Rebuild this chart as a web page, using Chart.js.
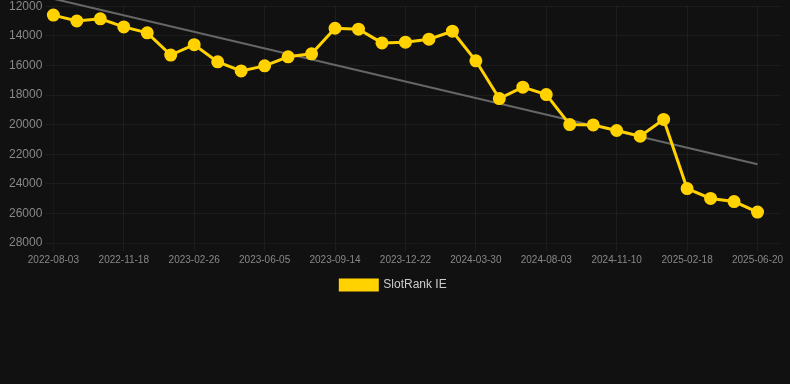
<!DOCTYPE html>
<html>
<head>
<meta charset="utf-8">
<script src="https://cdn.jsdelivr.net/npm/chart.js@4"></script>
<style>
  html, body { margin: 0; padding: 0; background: #111111; overflow: hidden; }
  #wrap { position: relative; width: 790px; height: 305px; margin-top: -4px; }
</style>
</head>
<body>
<div id="wrap"><canvas id="rankChart"></canvas></div>
<script>
// dates on the x axis (last one left blank, keeps room on the right like the original)
const dates = [
  "2022-08-03", "2022-09-08", "2022-10-13", "2022-11-18", "2022-12-21", "2023-01-23",
  "2023-02-26", "2023-03-31", "2023-05-03", "2023-06-05", "2023-07-09", "2023-08-11",
  "2023-09-14", "2023-10-17", "2023-11-19", "2023-12-22", "2024-01-24", "2024-02-26",
  "2024-03-30", "2024-05-11", "2024-06-22", "2024-08-03", "2024-09-05", "2024-10-08",
  "2024-11-10", "2024-12-13", "2025-01-15", "2025-02-18", "2025-03-30", "2025-05-11",
  "2025-06-20", ""
];

// rank values
const rankIE = [
  12600, 13000, 12850, 13400, 13800, 15300, 14600, 15760, 16370, 16030, 15420,
  15220, 13490, 13550, 14480, 14430, 14230, 13690, 15690, 18240, 17470, 17970,
  20000, 20020, 20400, 20780, 19650, 24320, 24990, 25200, 25910
];

// trend line, only the two end values
const trendStart = 11500;
const trendEnd = 22680;

const yTicks = { min: 12000, max: 28000, step: 2000 };

const trend = dates.map(() => null);
trend[0] = trendStart;
trend[rankIE.length - 1] = trendEnd;

const gold = "#FFD200";
const font = "Arial, 'Liberation Sans', sans-serif";

new Chart(document.getElementById("rankChart"), {
  type: "line",
  data: {
    labels: dates,
    datasets: [
      {
        label: "SlotRank IE",
        data: rankIE,
        borderColor: gold,
        backgroundColor: gold,
        borderWidth: 3,
        pointRadius: 5,
        pointHoverRadius: 6,
        pointBackgroundColor: gold,
        pointBorderColor: gold,
        tension: 0,
      },
      {
        label: "trend",
        data: trend,
        spanGaps: true,
        borderColor: "#666666",
        borderWidth: 2,
        pointRadius: 0,
        clip: false,
      },
    ],
  },
  options: {
    responsive: true,
    maintainAspectRatio: false,
    animation: false,
    layout: { padding: { left: 6, right: 9 } },
    plugins: {
      legend: {
        position: "bottom",
        labels: {
          color: "#cccccc",
          font: { size: 12, family: font },
          boxWidth: 37,
          boxHeight: 10,
          filter: (item) => item.text !== "trend",
        },
      },
      tooltip: { enabled: false },
    },
    scales: {
      x: {
        grid: { color: "rgba(255,255,255,0.05)" },
        ticks: {
          color: "#888888",
          maxRotation: 0,
          autoSkip: true,
          font: { size: 10, family: font },
        },
      },
      y: {
        reverse: true,
        min: yTicks.min,
        max: yTicks.max,
        grid: { color: "rgba(255,255,255,0.05)" },
        ticks: {
          stepSize: yTicks.step,
          color: "#888888",
          font: { size: 12, family: font },
          callback: (v) => String(v),
        },
      },
    },
  },
});
</script>
</body>
</html>
